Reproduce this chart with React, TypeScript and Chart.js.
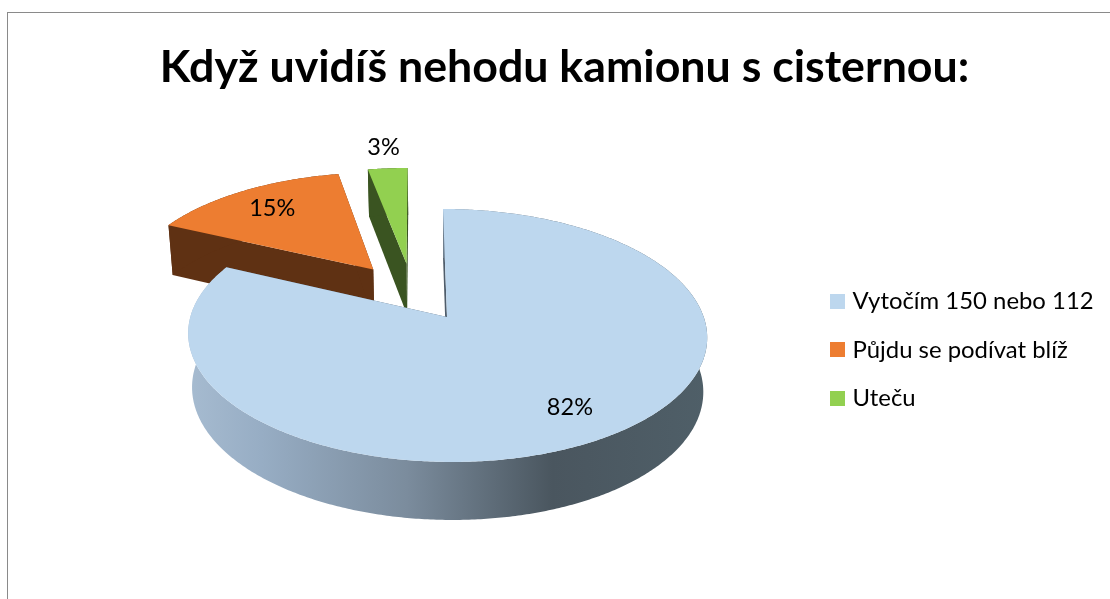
import React, { useEffect, useRef } from "react";
import { Chart, registerables } from "chart.js";

Chart.register(...registerables);

const titleText = "Když uvidíš nehodu kamionu s cisternou:";
const categories = ["Vytočím 150 nebo 112", "Půjdu se podívat blíž", "Uteču"];
const shares = [82, 15, 3];
const topColors = ["#BDD7EE", "#ED7D31", "#92D050"];
const wallColors = ["#4F5D6B", "#5F3113", "#3A5421"];
const explodeU = [0, -0.297, -0.16];
const explodeV = [0, -0.406, -0.46];
const labelRadius = [0.785, 0.76, 1.26];
const drawOrder = [1, 2, 0];
const FONT = "Lato, 'Open Sans', sans-serif";

const X0 = 447, Y0 = 317, A = 256.7, B = 123.8, C = 4.6, P = 0.146;

function project(u: number, v: number, bottom = false) {
  const w = 1 - P * v;
  let x = X0 + (A * u + C * v) / w;
  let y = Y0 + (B * v) / w;
  if (bottom) {
    x = X0 + (x - X0) * 0.985;
    y += 53.5 + 4.5 * v;
  }
  return { x, y };
}

function swatch(color: string) {
  const c = document.createElement("canvas");
  c.width = 15;
  c.height = 15;
  const g = c.getContext("2d")!;
  g.fillStyle = color;
  g.fillRect(0, 0, 15, 15);
  return c;
}

const pie3d = {
  id: "pie3d",
  beforeDraw(chart: any) {
    const { ctx } = chart;
    ctx.save();
    ctx.fillStyle = "#8A8A8A";
    ctx.fillRect(7, 12, 1103, 1);
    ctx.fillRect(7, 12, 1, 587);
    ctx.restore();
  },
  beforeDatasetDraw(chart: any) {
    const { ctx } = chart;
    const arcs = chart.getDatasetMeta(0).data;
    const rimPoint = (i: number, t: number, bottom: boolean) =>
      project(explodeU[i] + Math.sin(t), explodeV[i] - Math.cos(t), bottom);
    const apex = (i: number, bottom: boolean) => project(explodeU[i], explodeV[i], bottom);
    const trace = (pts: { x: number; y: number }[]) => {
      pts.forEach((p, k) => (k ? ctx.lineTo(p.x, p.y) : ctx.moveTo(p.x, p.y)));
      ctx.closePath();
    };
    ctx.save();
    for (const i of drawOrder) {
      const start = arcs[i].startAngle + Math.PI / 2;
      const end = arcs[i].endAngle + Math.PI / 2;
      const steps = Math.max(4, Math.ceil((end - start) / 0.01));
      const angles: number[] = [];
      for (let k = 0; k <= steps; k++) angles.push(start + ((end - start) * k) / steps);

      // radial cut faces
      ctx.fillStyle = wallColors[i];
      for (const t of [start, end]) {
        ctx.beginPath();
        trace([apex(i, false), rimPoint(i, t, false), rimPoint(i, t, true), apex(i, true)]);
        ctx.fill();
      }
      // outer wall
      let wall: any = wallColors[i];
      if (i === 0) {
        wall = ctx.createLinearGradient(189, 0, 708, 0);
        wall.addColorStop(0, "#A6BBD0");
        wall.addColorStop(0.14, "#97ADC4");
        wall.addColorStop(0.42, "#7B8C9D");
        wall.addColorStop(0.7, "#4A565F");
        wall.addColorStop(1, "#4F5F68");
      }
      ctx.fillStyle = wall;
      ctx.beginPath();
      trace([
        ...angles.map((t) => rimPoint(i, t, false)),
        ...angles.slice().reverse().map((t) => rimPoint(i, t, true)),
      ]);
      ctx.fill();
      // top face
      ctx.fillStyle = topColors[i];
      ctx.beginPath();
      trace([apex(i, false), ...angles.map((t) => rimPoint(i, t, false))]);
      ctx.fill();
    }
    // value labels
    ctx.fillStyle = "#000000";
    ctx.font = `23.5px ${FONT}`;
    ctx.textAlign = "center";
    ctx.textBaseline = "middle";
    arcs.forEach((arc: any, i: number) => {
      const mid = (arc.startAngle + arc.endAngle) / 2 + Math.PI / 2;
      const p = project(
        explodeU[i] + labelRadius[i] * Math.sin(mid),
        explodeV[i] - labelRadius[i] * Math.cos(mid)
      );
      ctx.fillText(`${shares[i]}%`, p.x, p.y);
    });
    ctx.restore();
    return false;
  },
};

export default function App() {
  const ref = useRef<HTMLCanvasElement>(null);
  useEffect(() => {
    const chart = new Chart(ref.current!, {
      type: "pie",
      data: {
        labels: categories,
        datasets: [{ data: shares, backgroundColor: topColors, borderWidth: 0 }],
      },
      options: {
        responsive: false,
        animation: false,
        devicePixelRatio: 1,
        layout: { padding: { left: 25.4, top: 41, right: 6.4, bottom: 0 } },
        plugins: {
          title: {
            display: true,
            text: titleText,
            color: "#000000",
            font: { family: FONT, size: 44.7, weight: "bold" },
            padding: { top: 0, bottom: 6 },
          },
          legend: {
            position: "right",
            fullSize: false,
            labels: {
              usePointStyle: true,
              pointStyleWidth: 7,
              boxHeight: 15,
              padding: 24.6,
              color: "#000000",
              font: { family: FONT, size: 23.9 },
              generateLabels: () =>
                categories.map((text, index) => ({
                  text,
                  index,
                  fillStyle: topColors[index],
                  strokeStyle: topColors[index],
                  lineWidth: 0,
                  hidden: false,
                  pointStyle: swatch(topColors[index]),
                })),
            },
          },
          tooltip: { enabled: false },
        },
      } as any,
      plugins: [pie3d],
    });
    return () => chart.destroy();
  }, []);
  return (
    <div style={{ position: "absolute", left: 0, top: 0, width: 1110, height: 599, background: "#FFFFFF" }}>
      <canvas ref={ref} width={1110} height={599} style={{ display: "block" }} />
    </div>
  );
}
